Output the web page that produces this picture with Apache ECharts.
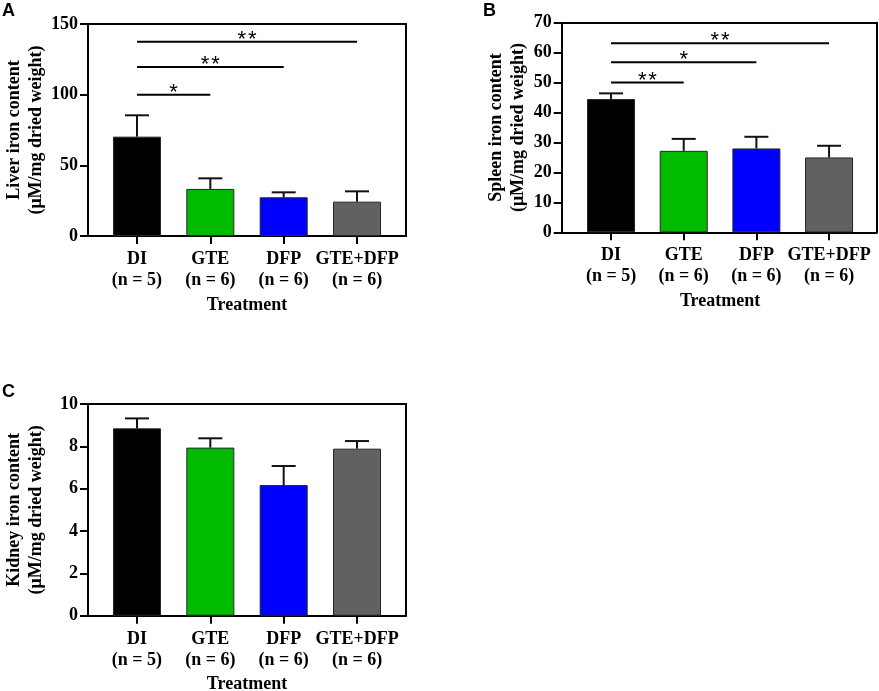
<!DOCTYPE html>
<html>
<head>
<meta charset="utf-8">
<script src="https://cdn.jsdelivr.net/npm/echarts@6.0.0/dist/echarts.min.js"></script>
<style>
  html, body { margin: 0; padding: 0; background: #fff; }
  #chart { width: 879px; height: 691px; }
</style>
</head>
<body>
<div id="chart"></div>
<script>
// groups on the x axis
const groups = ['DI', 'GTE', 'DFP', 'GTE+DFP'];
const groupN = [5, 6, 6, 6];

// A - liver
const liverMean = [70.3, 33.3, 27.4, 24.3];
const liverErr = [15.1, 7.5, 3.5, 7.3];
const liverTicks = [0, 50, 100, 150];
const liverSigPairs = [[0, 1], [0, 2], [0, 3]];
const liverSigY = [100, 119.5, 137.5];
const liverSigMark = ['*', '**', '**'];

// B - spleen
const spleenMean = [44.5, 27.2, 28.0, 25.0];
const spleenErr = [1.9, 4.0, 3.9, 3.9];
const spleenTicks = [0, 10, 20, 30, 40, 50, 60, 70];
const spleenSigPairs = [[0, 1], [0, 2], [0, 3]];
const spleenSigY = [50, 56.8, 63.1];
const spleenSigMark = ['**', '*', '**'];

// C - kidney
const kidneyMean = [8.85, 7.94, 6.17, 7.89];
const kidneyErr = [0.47, 0.44, 0.90, 0.36];
const kidneyTicks = [0, 2, 4, 6, 8, 10];

const barColors = ['#000000', '#00bb00', '#0000ff', '#616161'];
const SERIF = '"Liberation Serif", "Times New Roman", serif';
const SANS = '"Liberation Sans", Arial, sans-serif';

const panels = [
    {
        letter: 'A', letterPos: [2, 2],
        frame: { left: 88, top: 24, width: 318, height: 212 },
        band: { left: 100.3, width: 293.4 },
        barWidth: 48, nameGap: 41,
        yName: 'Liver iron content\n(μM/mg dried weight)',
        mean: liverMean, err: liverErr, ticks: liverTicks,
        sigPairs: liverSigPairs, sigY: liverSigY, sigMark: liverSigMark
    },
    {
        letter: 'B', letterPos: [483, 2],
        frame: { left: 561.7, top: 22.7, width: 315, height: 209.6 },
        band: { left: 574.7, width: 290.7 },
        barWidth: 48, nameGap: 32,
        yName: 'Spleen iron content\n(μM/mg dried weight)',
        mean: spleenMean, err: spleenErr, ticks: spleenTicks,
        sigPairs: spleenSigPairs, sigY: spleenSigY, sigMark: spleenSigMark
    },
    {
        letter: 'C', letterPos: [2, 383],
        frame: { left: 88, top: 404, width: 318, height: 211.7 },
        band: { left: 100.3, width: 293.4 },
        barWidth: 48, nameGap: 41,
        yName: 'Kidney iron content\n(μM/mg dried weight)',
        mean: kidneyMean, err: kidneyErr, ticks: kidneyTicks,
        sigPairs: [], sigY: [], sigMark: []
    }
];

const labels = groups.map((g, i) => g + '\n(n = ' + groupN[i] + ')');
const axisStroke = { color: '#000', width: 2 };
const boldText = { fontFamily: SERIF, fontWeight: 'bold', fontSize: 18, color: '#000' };

const option = { animation: false, grid: [], xAxis: [], yAxis: [], series: [], graphic: [] };

panels.forEach(function (p) {
    const ymin = p.ticks[0];
    const ymax = p.ticks[p.ticks.length - 1];
    const step = p.ticks[1] - p.ticks[0];

    // frame grid: box lines + y ticks
    const gF = option.grid.length;
    option.grid.push({
        left: p.frame.left, top: p.frame.top, width: p.frame.width, height: p.frame.height,
        outerBoundsMode: 'none', containLabel: false
    });
    // data grid: category bands
    const gD = option.grid.length;
    option.grid.push({
        left: p.band.left, top: p.frame.top, width: p.band.width, height: p.frame.height,
        outerBoundsMode: 'none', containLabel: false
    });

    ['bottom', 'top'].forEach(function (pos) {
        option.xAxis.push({
            gridIndex: gF, type: 'value', min: 0, max: 1, position: pos,
            axisLine: { show: true, onZero: false, lineStyle: axisStroke },
            axisTick: { show: false }, axisLabel: { show: false }, splitLine: { show: false }
        });
    });
    option.yAxis.push({
        gridIndex: gF, type: 'value', min: ymin, max: ymax, interval: step, position: 'left',
        axisLine: { show: true, onZero: false, lineStyle: axisStroke },
        axisTick: { show: true, length: 8, lineStyle: axisStroke },
        axisLabel: Object.assign({ margin: 10 }, boldText),
        splitLine: { show: false },
        name: p.yName, nameLocation: 'middle', nameRotate: 90, nameGap: p.nameGap,
        nameTextStyle: Object.assign({ lineHeight: 22 }, boldText)
    });
    option.yAxis.push({
        gridIndex: gF, type: 'value', min: ymin, max: ymax, position: 'right',
        axisLine: { show: true, onZero: false, lineStyle: axisStroke },
        axisTick: { show: false }, axisLabel: { show: false }, splitLine: { show: false }
    });

    const xD = option.xAxis.length;
    option.xAxis.push({
        gridIndex: gD, type: 'category', data: labels,
        axisLine: { show: false },
        axisTick: { show: true, alignWithLabel: true, length: 8, lineStyle: axisStroke },
        axisLabel: Object.assign({ margin: 13, lineHeight: 21, interval: 0 }, boldText),
        name: 'Treatment', nameLocation: 'middle', nameGap: 59,
        nameTextStyle: Object.assign({ lineHeight: 20 }, boldText)
    });
    const yD = option.yAxis.length;
    option.yAxis.push({ gridIndex: gD, type: 'value', min: ymin, max: ymax, show: false });

    option.series.push({
        type: 'bar', xAxisIndex: xD, yAxisIndex: yD, barWidth: p.barWidth,
        data: p.mean.map(function (v, i) {
            return { value: v, itemStyle: { color: barColors[i], borderColor: '#262626', borderWidth: 1 } };
        })
    });

    const half = p.barWidth / 4;
    option.series.push({
        type: 'custom', xAxisIndex: xD, yAxisIndex: yD, z: 5,
        encode: { x: 0, y: 1 },
        data: p.mean.map(function (v, i) { return [i, v, p.err[i]]; }),
        renderItem: function (params, api) {
            const i = api.value(0), m = api.value(1), e = api.value(2);
            const base = api.coord([i, m]);
            const top = api.coord([i, m + e]);
            const st = { stroke: '#111', lineWidth: 2 };
            return {
                type: 'group', children: [
                    { type: 'line', shape: { x1: base[0], y1: base[1], x2: top[0], y2: top[1] }, style: st },
                    { type: 'line', shape: { x1: top[0] - half, y1: top[1], x2: top[0] + half, y2: top[1] }, style: st }
                ]
            };
        }
    });

    if (p.sigPairs.length) {
        option.series.push({
            type: 'custom', xAxisIndex: xD, yAxisIndex: yD, z: 5,
            encode: { x: [0, 1], y: 2 },
            data: p.sigPairs.map(function (pr, i) { return [pr[0], pr[1], p.sigY[i]]; }),
            renderItem: function (params, api) {
                const a = api.coord([api.value(0), api.value(2)]);
                const b = api.coord([api.value(1), api.value(2)]);
                // stars drawn a little apart, as in the figure
                const mark = p.sigMark[params.dataIndex].split('').join('\u200A');
                return {
                    type: 'group', children: [
                        { type: 'line', shape: { x1: a[0], y1: a[1], x2: b[0], y2: b[1] }, style: { stroke: '#000', lineWidth: 2 } },
                        {
                            type: 'text', x: (a[0] + b[0]) / 2, y: a[1] - 2,
                            style: {
                                text: mark, fill: '#000',
                                font: '22px ' + SANS, align: 'center', verticalAlign: 'middle'
                            }
                        }
                    ]
                };
            }
        });
    }

    option.graphic.push({
        type: 'text', left: p.letterPos[0], top: p.letterPos[1],
        style: { text: p.letter, fill: '#000', font: 'bold 18px ' + SANS }
    });
});

const chart = echarts.init(document.getElementById('chart'));
chart.setOption(option);
</script>
</body>
</html>
